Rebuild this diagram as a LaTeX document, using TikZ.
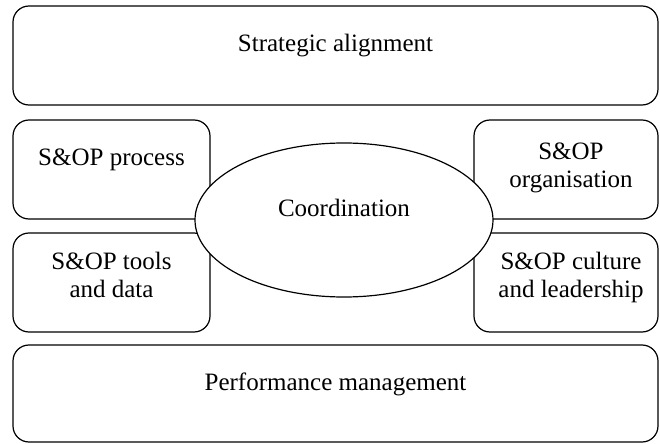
\documentclass[tikz,border=0pt]{standalone}
\usepackage{fontspec}
\setmainfont{Liberation Serif}
\usetikzlibrary{shapes.geometric}

\begin{document}
\begin{tikzpicture}[x=0.5pt, y=-0.5pt,
    box/.style={draw, rounded corners=8pt, line width=0.6pt, inner sep=0pt},
    every node/.style={font=\fontsize{12.5pt}{14pt}\selectfont}]
    \useasboundingbox (0,0) rectangle (660,444);
    % frames
    \node (align) at (335.5,55.5) [box, minimum width=322.5pt, minimum height=49.5pt] {};
    \node (process) at (111.5,169.5) [box, minimum width=98.5pt, minimum height=49.5pt] {};
    \node (tools) at (111.5,282.5) [box, minimum width=98.5pt, minimum height=49.5pt] {};
    \node (organis) at (566,169.5) [box, minimum width=92pt, minimum height=49.5pt] {};
    \node (culture) at (566,282.5) [box, minimum width=92pt, minimum height=49.5pt] {};
    \node (perform) at (335.5,393.5) [box, minimum width=322.5pt, minimum height=48.5pt] {};
    \node (coord) at (344,220) [ellipse, draw, fill=white, line width=0.6pt, inner sep=0pt,
        minimum width=149pt, minimum height=77pt] {};
    % labels
    \node (alignlbl) at (335.5,52) [anchor=base] {Strategic alignment};
    \node (processlbl) at (111.5,165.7) [anchor=base] {S\&OP process};
    \node (toolslbl) at (111.5,298) [anchor=base, align=center] {S\&OP tools\\and data};
    \node (organislbl) at (571,188) [anchor=base, align=center] {S\&OP\\organisation};
    \node (culturelbl) at (571,298) [anchor=base, align=center] {S\&OP culture\\and leadership};
    \node (coordlbl) at (344,216.7) [anchor=base] {Coordination};
    \node (performlbl) at (335.5,391) [anchor=base] {Performance management};
\end{tikzpicture}
\end{document}
